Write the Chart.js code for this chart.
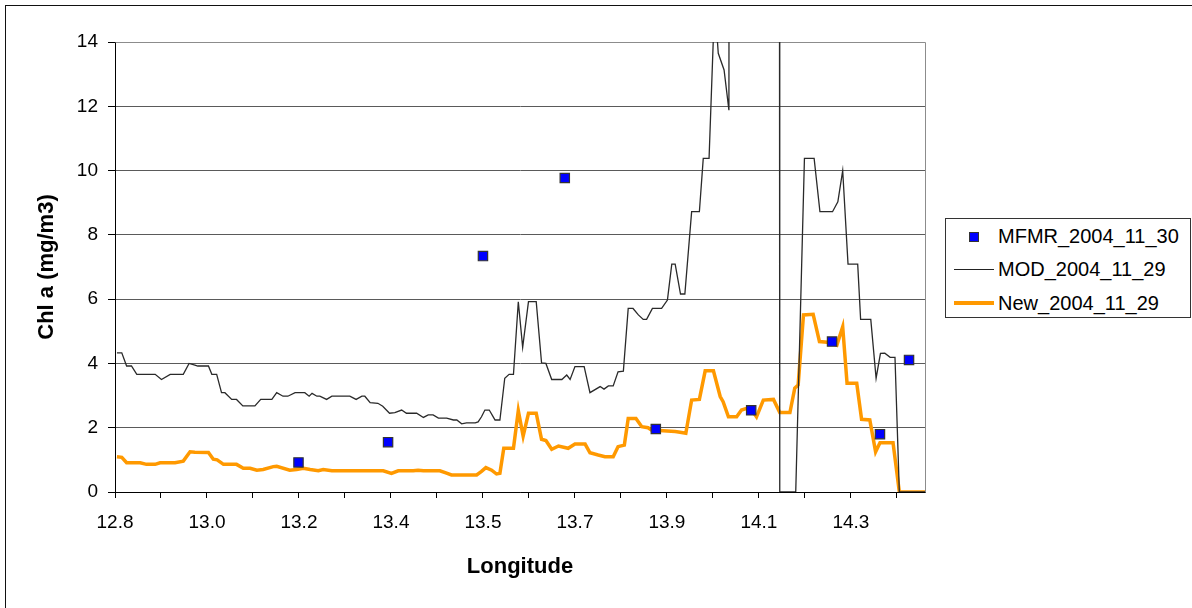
<!DOCTYPE html>
<html>
<head>
<meta charset="utf-8">
<script src="https://cdn.jsdelivr.net/npm/chart.js@4.4.0/dist/chart.umd.min.js"></script>
<style>
  body { margin: 0; background: #fff; }
  #wrap { position: relative; width: 1192px; height: 608px; overflow: hidden; }
  #frame { position: absolute; left: 5px; top: 5px; width: 1300px; height: 700px; border-left: 1.5px solid #111; border-top: 1.5px solid #111; }
  #legend { position: absolute; left: 945px; top: 218px; width: 244px; height: 98px; border: 1px solid #333; background: #fff;
            font-family: "Liberation Sans", Arial, sans-serif; font-size: 20px; color: #000; }
  .item { position: absolute; left: 0; height: 24px; line-height: 24px; }
  .item span.txt { position: absolute; left: 52px; top: 0; white-space: nowrap; }
  .sq { position: absolute; left: 23px; top: 8px; width: 8px; height: 8px; background: #0000ff; border: 1px solid #333; }
  .ln { position: absolute; left: 8px; width: 40px; }
</style>
</head>
<body>
<div id="wrap">
  <canvas id="chart" width="1192" height="608"></canvas>
  <div id="frame"></div>
  <div id="legend">
    <div class="item" style="top:5px"><div class="sq"></div><span class="txt">MFMR_2004_11_30</span></div>
    <div class="item" style="top:38px"><div class="ln" style="top:12px;border-top:1px solid #222"></div><span class="txt">MOD_2004_11_29</span></div>
    <div class="item" style="top:72px"><div class="ln" style="top:10px;border-top:4px solid #ff9900"></div><span class="txt">New_2004_11_29</span></div>
  </div>
</div>
<script>
// x axis ticks (labels only on every other tick, as in the original)
const xTickValues = [12.78, 12.875, 12.97, 13.065, 13.16, 13.255, 13.35, 13.445, 13.54, 13.635,
                     13.73, 13.825, 13.92, 14.015, 14.11, 14.205, 14.3, 14.395];
const xTickLabels = ['12.8', '', '13.0', '', '13.2', '', '13.4', '', '13.5', '',
                     '13.7', '', '13.9', '', '14.1', '', '14.3', ''];

// MFMR_2004_11_30 (points)
const mfmrLon = [13.159, 13.344, 13.540, 13.709, 13.897, 14.094, 14.261, 14.360, 14.420];
const mfmrChl = [0.92, 1.55, 7.34, 9.77, 1.96, 2.54, 4.68, 1.80, 4.11];

// MOD_2004_11_29
const modLon = [12.784, 12.794, 12.804, 12.814, 12.825, 12.863, 12.876, 12.894, 12.921, 12.933,
                12.945, 12.951, 12.973, 12.980, 12.990, 13.000, 13.007, 13.021, 13.031, 13.044,
                13.069, 13.081, 13.104, 13.114, 13.127, 13.137, 13.152, 13.172, 13.181, 13.187,
                13.197, 13.203, 13.217, 13.228, 13.265, 13.278, 13.290, 13.296, 13.307, 13.323,
                13.333, 13.347, 13.358, 13.372, 13.382, 13.403, 13.417, 13.427, 13.437, 13.448,
                13.465, 13.479, 13.486, 13.496, 13.506, 13.524, 13.530, 13.537, 13.544, 13.553,
                13.560, 13.565, 13.575, 13.585, 13.594, 13.603, 13.613, 13.622, 13.634, 13.650,
                13.661, 13.670, 13.682, 13.703, 13.713, 13.720, 13.730, 13.749, 13.761, 13.782,
                13.790, 13.799, 13.809, 13.819, 13.830, 13.840, 13.850, 13.861, 13.871, 13.878,
                13.890, 13.909, 13.921, 13.930, 13.937, 13.948, 13.957, 13.971, 13.987, 13.995,
                14.007, 14.017, 14.023, 14.026, 14.038, 14.048, 14.049, 14.152, 14.153, 14.186,
                14.204, 14.224, 14.236, 14.262, 14.273, 14.283, 14.294, 14.314, 14.320, 14.341,
                14.352, 14.361, 14.370, 14.381, 14.391, 14.400, 14.453];
const modChl = [4.33, 4.33, 3.92, 3.92, 3.66, 3.66, 3.50, 3.66, 3.66, 4.00,
                3.95, 3.92, 3.92, 3.66, 3.66, 3.09, 3.09, 2.88, 2.88, 2.68,
                2.68, 2.88, 2.88, 3.09, 2.98, 2.98, 3.09, 3.09, 2.98, 3.07,
                2.98, 2.98, 2.88, 2.98, 2.98, 2.88, 2.98, 2.98, 2.78, 2.76,
                2.67, 2.45, 2.47, 2.55, 2.45, 2.45, 2.32, 2.40, 2.40, 2.30,
                2.30, 2.24, 2.24, 2.12, 2.15, 2.15, 2.18, 2.34, 2.55, 2.55,
                2.37, 2.24, 2.24, 3.54, 3.66, 3.66, 5.92, 4.50, 5.92, 5.92,
                4.02, 4.00, 3.50, 3.50, 3.64, 3.50, 3.90, 3.90, 3.09, 3.28,
                3.20, 3.30, 3.30, 3.74, 3.76, 5.71, 5.71, 5.51, 5.37, 5.37,
                5.71, 5.71, 5.97, 7.09, 7.09, 6.16, 6.16, 8.72, 8.72, 10.38,
                10.38, 14.60, 14.30, 13.65, 13.13, 11.88, 30.0, 30.0, 0.00, 0.00,
                10.38, 10.38, 8.72, 8.72, 9.03, 10.00, 7.09, 7.09, 5.37, 5.37,
                3.54, 4.31, 4.32, 4.19, 4.19, 0.00, 0.00];

// New_2004_11_29
const newLon = [12.784, 12.794, 12.804, 12.832, 12.845, 12.863, 12.873, 12.904, 12.921, 12.935,
                12.945, 12.973, 12.983, 12.991, 13.004, 13.031, 13.045, 13.059, 13.073, 13.086,
                13.107, 13.114, 13.141, 13.155, 13.169, 13.183, 13.200, 13.210, 13.228, 13.334,
                13.351, 13.365, 13.396, 13.406, 13.417, 13.451, 13.462, 13.475, 13.527, 13.537,
                13.546, 13.558, 13.568, 13.575, 13.583, 13.603, 13.613, 13.623, 13.634, 13.650,
                13.661, 13.670, 13.682, 13.696, 13.716, 13.730, 13.751, 13.761, 13.778, 13.792,
                13.809, 13.819, 13.832, 13.840, 13.856, 13.868, 13.881, 13.888, 13.937, 13.947,
                13.959, 13.971, 13.987, 13.999, 14.016, 14.030, 14.036, 14.047, 14.064, 14.074,
                14.085, 14.095, 14.105, 14.119, 14.140, 14.153, 14.174, 14.184, 14.191, 14.202,
                14.222, 14.235, 14.257, 14.271, 14.283, 14.292, 14.312, 14.322, 14.339, 14.351,
                14.360, 14.387, 14.400, 14.453];
const newChl = [1.10, 1.08, 0.91, 0.91, 0.86, 0.86, 0.91, 0.91, 0.96, 1.25,
                1.24, 1.23, 1.02, 1.00, 0.86, 0.86, 0.74, 0.74, 0.68, 0.70,
                0.79, 0.80, 0.68, 0.70, 0.74, 0.70, 0.66, 0.70, 0.66, 0.66,
                0.58, 0.66, 0.66, 0.68, 0.66, 0.66, 0.60, 0.53, 0.53, 0.64,
                0.76, 0.68, 0.56, 0.58, 1.36, 1.36, 2.53, 1.74, 2.45, 2.45,
                1.64, 1.60, 1.33, 1.43, 1.36, 1.49, 1.49, 1.22, 1.15, 1.10,
                1.10, 1.41, 1.46, 2.29, 2.29, 2.03, 2.00, 1.93, 1.88, 1.86,
                1.83, 2.86, 2.88, 3.77, 3.77, 2.97, 2.81, 2.34, 2.34, 2.55,
                2.60, 2.55, 2.34, 2.86, 2.88, 2.47, 2.47, 3.23, 3.33, 5.51,
                5.53, 4.68, 4.65, 4.57, 5.14, 3.38, 3.38, 2.26, 2.24, 1.25,
                1.53, 1.53, 0.00, 0.00];

const toPoints = (xs, ys) => xs.map((x, i) => ({ x: x, y: ys[i] }));

// gray top/right edge of the plot area
const plotBorder = {
    id: 'plotBorder',
    beforeDatasetsDraw(chart) {
        const { ctx, chartArea: a } = chart;
        ctx.save();
        ctx.strokeStyle = '#8c8c8c';
        ctx.lineWidth = 1;
        ctx.beginPath();
        ctx.moveTo(Math.round(a.left) + 0.5, Math.round(a.top) + 0.5);
        ctx.lineTo(Math.round(a.right) + 0.5, Math.round(a.top) + 0.5);
        ctx.lineTo(Math.round(a.right) + 0.5, Math.round(a.bottom) + 0.5);
        ctx.stroke();
        ctx.restore();
    }
};

const font = "'Liberation Sans', Arial, sans-serif";

new Chart(document.getElementById('chart'), {
    type: 'scatter',
    data: {
        datasets: [{
            label: 'MFMR_2004_11_30',
            data: toPoints(mfmrLon, mfmrChl),
            pointStyle: 'rect',
            pointRadius: 6.6,
            backgroundColor: '#0000ff',
            borderColor: '#333333',
            borderWidth: 1.2,
            order: 0
        }, {
            label: 'MOD_2004_11_29',
            data: toPoints(modLon, modChl),
            showLine: true,
            pointRadius: 0,
            borderColor: '#2a2a2a',
            borderWidth: 1.3,
            order: 1
        }, {
            label: 'New_2004_11_29',
            data: toPoints(newLon, newChl),
            showLine: true,
            pointRadius: 0,
            borderColor: '#ff9900',
            borderWidth: 3.5,
            order: 2
        }]
    },
    options: {
        responsive: false,
        devicePixelRatio: 1,
        animation: false,
        layout: { padding: { left: 0, top: 42, right: 267, bottom: 0 } },
        plugins: {
            legend: { display: false },
            tooltip: { enabled: false }
        },
        scales: {
            x: {
                type: 'linear',
                min: 12.78,
                max: 14.453,
                afterBuildTicks: (scale) => { scale.ticks = xTickValues.map(v => ({ value: v })); },
                afterFit: (scale) => { scale.height = 116; },
                ticks: {
                    autoSkip: false,
                    maxRotation: 0,
                    padding: 13,
                    color: '#000',
                    font: { family: font, size: 19 },
                    callback: (value, index) => xTickLabels[index]
                },
                grid: { drawOnChartArea: false, tickLength: 6, tickColor: '#000' },
                border: { color: '#000', width: 1 },
                title: {
                    display: true,
                    text: 'Longitude',
                    color: '#000',
                    font: { family: font, size: 22, weight: 'bold' },
                    padding: { top: 0, bottom: 28 }
                }
            },
            y: {
                min: 0,
                max: 14,
                afterFit: (scale) => { scale.width = 115; },
                ticks: {
                    stepSize: 2,
                    padding: 10,
                    color: '#000',
                    font: { family: font, size: 19 }
                },
                grid: { color: '#5a5a5a', lineWidth: 1, tickLength: 7, tickColor: '#000' },
                border: { color: '#000', width: 1 },
                title: {
                    display: true,
                    text: 'Chl a (mg/m3)',
                    color: '#000',
                    font: { family: font, size: 22, weight: 'bold' },
                    padding: { top: 34, bottom: 0 }
                }
            }
        }
    },
    plugins: [plotBorder]
});
</script>
</body>
</html>
